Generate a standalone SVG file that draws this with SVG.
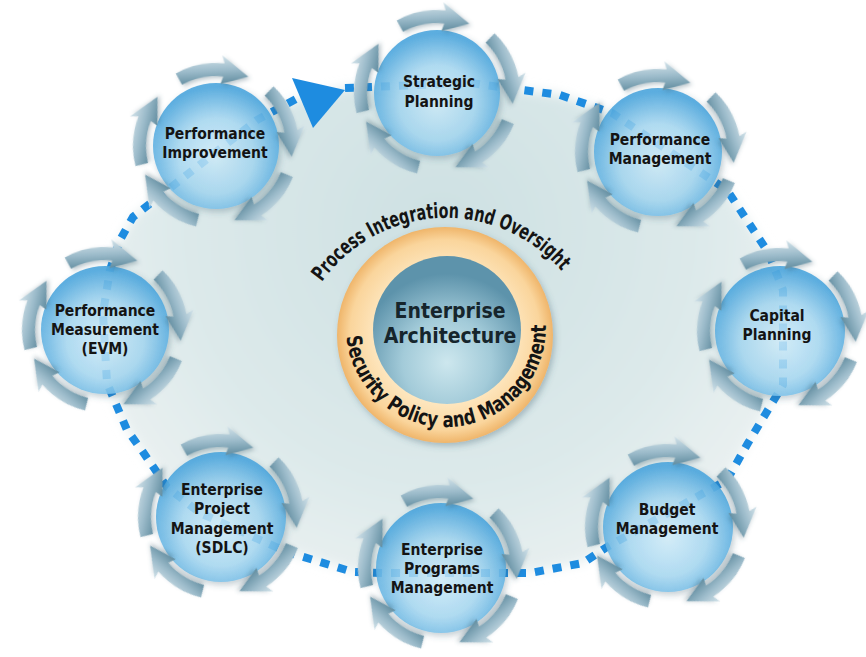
<svg xmlns="http://www.w3.org/2000/svg" xmlns:xlink="http://www.w3.org/1999/xlink" width="866" height="657" viewBox="0 0 866 657">
<style>
.nt{font-family:"DejaVu Sans Condensed","DejaVu Sans",sans-serif;font-stretch:condensed;font-weight:bold;font-size:15.5px;fill:#141414;text-anchor:middle}
.ct{font-family:"DejaVu Sans Condensed","DejaVu Sans",sans-serif;font-stretch:condensed;font-weight:bold;font-size:21px;fill:#16252c;text-anchor:middle}
.rt{font-family:"DejaVu Sans Condensed","DejaVu Sans",sans-serif;font-stretch:condensed;font-weight:bold;font-size:21px;fill:#141414}
.dash{fill:none;stroke:#1e8ce0;stroke-width:8;stroke-dasharray:9 9;stroke-linejoin:round}
.node{fill:url(#ng);filter:url(#sh)}
.arr{fill:url(#ag);filter:url(#ash)}
</style>
<defs>
<radialGradient id="bg" cx="440" cy="230" r="420" gradientUnits="userSpaceOnUse">
<stop offset="0" stop-color="#cde0e2"/>
<stop offset="0.6" stop-color="#dce9ea"/>
<stop offset="1" stop-color="#eef3f3"/>
</radialGradient>
<radialGradient id="ng" cx="0.5" cy="0.58" r="0.55">
<stop offset="0" stop-color="#d2effc" stop-opacity="0.8"/>
<stop offset="0.55" stop-color="#a5d9f4" stop-opacity="0.8"/>
<stop offset="1" stop-color="#50a8de" stop-opacity="0.92"/>
</radialGradient>
<radialGradient id="eg" cx="0.5" cy="0.72" r="0.6">
<stop offset="0" stop-color="#cde7ee"/>
<stop offset="0.5" stop-color="#a3cbd9"/>
<stop offset="1" stop-color="#5d93ab"/>
</radialGradient>
<radialGradient id="og" cx="0.5" cy="0.5" r="0.5">
<stop offset="0.6" stop-color="#fee9c4"/>
<stop offset="0.88" stop-color="#fad59c"/>
<stop offset="1" stop-color="#efb56a"/>
</radialGradient>
<linearGradient id="ag" x1="0" y1="0" x2="0" y2="1">
<stop offset="0" stop-color="#d3e3ea"/>
<stop offset="0.5" stop-color="#9dbccb"/>
<stop offset="1" stop-color="#628da0"/>
</linearGradient>
<filter id="sh" x="-20%" y="-20%" width="140%" height="140%">
<feDropShadow dx="2" dy="3" stdDeviation="3" flood-color="#3d6070" flood-opacity="0.35"/>
</filter>
<filter id="ash" x="-20%" y="-20%" width="140%" height="140%">
<feDropShadow dx="2" dy="2" stdDeviation="2" flood-color="#3d6070" flood-opacity="0.35"/>
</filter>
<filter id="blur" x="-5%" y="-5%" width="110%" height="110%">
<feGaussianBlur stdDeviation="6"/>
</filter>
<path id="arr" d="M -36.4 -74.6 A 83 83 0 0 1 13.0 -82.0 L 11.1 -90.3 L 35.9 -67.5 L 7.6 -61.5 L 10.9 -69.1 A 70 70 0 0 0 -30.7 -62.9 Z"/>
<g id="ring5">
<use xlink:href="#arr" class="arr" transform="rotate(-3)"/>
<use xlink:href="#arr" class="arr" transform="rotate(70)"/>
<use xlink:href="#arr" class="arr" transform="rotate(138)"/>
<use xlink:href="#arr" class="arr" transform="rotate(220)"/>
<use xlink:href="#arr" class="arr" transform="rotate(282)"/>
</g>
<path id="topArc" d="M 322 282 A 152 152 0 0 1 570 282"/>
<path id="botArc" d="M 346.4 336.7 A 100 100 0 0 0 545.9 324.5"/>
</defs>

<rect width="866" height="657" fill="#ffffff"/>
<polygon id="backdrop" filter="url(#blur)" fill="url(#bg)" points="295,100 345,88 470,83 560,95 612,113 727,190 768,252 783,290 783,385 748,443 727,480 607,547 583,563 530,573 383,573 353,572 287,552 200,513 167,487 143,452 127,430 107,383 103,313 110,270 120,240 133,217 257,120"/>

<g id="connectors">
<polyline class="dash" points="345,88 470,83 560,95 612,113 727,190 768,252 783,290 783,385 748,443 727,480 607,547 583,563 530,573 383,573 353,572 287,552 200,513 167,487 143,452 127,430 107,383 103,313 110,270 120,240 133,217 257,120 298,98"/>
<polygon points="292,78 345,90 313,128" fill="#1e8ce0"/>
</g>

<g id="center">
<circle cx="445" cy="335" r="108" fill="url(#og)" filter="url(#sh)"/>
<circle cx="447" cy="330" r="74" fill="url(#eg)"/>
<text class="ct" x="450" y="318">Enterprise</text>
<text class="ct" x="450" y="343">Architecture</text>
<text class="rt"><textPath xlink:href="#topArc" textLength="276" lengthAdjust="spacingAndGlyphs">Process Integration and Oversight</textPath></text>
<text class="rt"><textPath xlink:href="#botArc" textLength="306" lengthAdjust="spacingAndGlyphs">Security Policy and Management</textPath></text>
</g>

<g id="strategic-planning">
<g transform="translate(437,93)"><circle class="node" r="63"/><use xlink:href="#ring5"/></g>
<text class="nt" x="439" y="87">Strategic</text>
<text class="nt" x="439" y="107">Planning</text>
</g>

<g id="performance-improvement">
<g transform="translate(216,146)"><circle class="node" r="63"/><use xlink:href="#ring5"/></g>
<text class="nt" x="215" y="139">Performance</text>
<text class="nt" x="215" y="158">Improvement</text>
</g>

<g id="performance-management">
<g transform="translate(658,152)"><circle class="node" r="64"/><use xlink:href="#ring5"/></g>
<text class="nt" x="660" y="145">Performance</text>
<text class="nt" x="660" y="164">Management</text>
</g>

<g id="capital-planning">
<g transform="translate(780,331)"><circle class="node" r="65"/><use xlink:href="#ring5"/></g>
<text class="nt" x="777" y="321">Capital</text>
<text class="nt" x="777" y="340">Planning</text>
</g>

<g id="budget-management">
<g transform="translate(668,527)"><circle class="node" r="65"/><use xlink:href="#ring5"/></g>
<text class="nt" x="667" y="515">Budget</text>
<text class="nt" x="667" y="534">Management</text>
</g>

<g id="enterprise-programs-management">
<g transform="translate(441,568)"><circle class="node" r="65"/><use xlink:href="#ring5"/></g>
<text class="nt" x="442" y="555">Enterprise</text>
<text class="nt" x="442" y="574">Programs</text>
<text class="nt" x="442" y="593">Management</text>
</g>

<g id="enterprise-project-management">
<g transform="translate(221,517)"><circle class="node" r="65"/><use xlink:href="#ring5"/></g>
<text class="nt" x="222" y="495">Enterprise</text>
<text class="nt" x="222" y="514">Project</text>
<text class="nt" x="222" y="534">Management</text>
<text class="nt" x="222" y="553">(SDLC)</text>
</g>

<g id="performance-measurement">
<g transform="translate(105,330)"><circle class="node" r="64"/><use xlink:href="#ring5"/></g>
<text class="nt" x="105" y="316">Performance</text>
<text class="nt" x="105" y="335">Measurement</text>
<text class="nt" x="105" y="354">(EVM)</text>
</g>
</svg>
